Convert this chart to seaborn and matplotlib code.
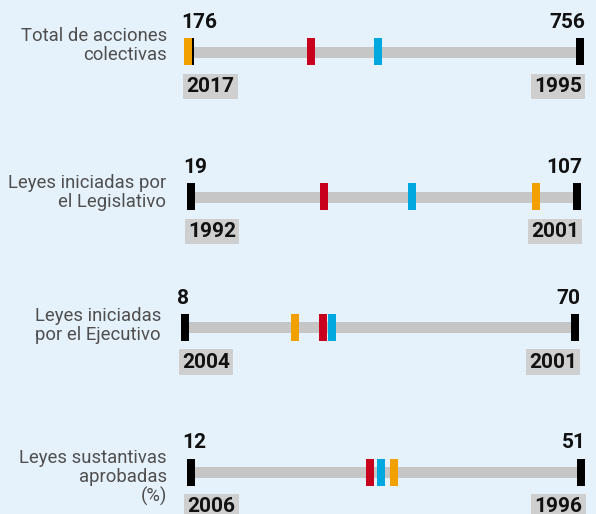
import matplotlib
matplotlib.use("Agg")
import matplotlib.pyplot as plt
import seaborn as sns
import pandas as pd
from matplotlib import font_manager as fm

# ---- data ----
labels = ["Total de acciones\ncolectivas",
          "Leyes iniciadas por\nel Legislativo",
          "Leyes iniciadas\npor el Ejecutivo",
          "Leyes sustantivas\naprobadas\n(%)"]
mins = [176, 19, 8, 12]
maxs = [756, 107, 70, 51]
min_years = ["2017", "1992", "2004", "2006"]
max_years = ["1995", "2001", "2001", "1996"]
orange_vals = [174.5, 97.7, 25.5, 32.3]
red_vals = [356, 49.3, 29.9, 29.9]
blue_vals = [456, 69.4, 31.3, 31.0]

# ---- layout (pixels) ----
W, H = 596, 514
left_px = [189.5, 191, 185, 190.5]
right_px = [580, 577, 575, 580.5]
center_px = [51.5, 196.5, 327, 472]
label_right = [167, 166, 161, 167]
label_top = [27, 174, 307, 449]

BG = "#E6F2FB"
palette = {"min": "#000000", "max": "#000000",
           "orange": "#F2A000", "red": "#C8001E", "blue": "#00A8E0"}

sns.set_theme(style="white")
avail = {f.name for f in fm.fontManager.ttflist}
num_font = [f for f in ["Liberation Sans Narrow", "DejaVu Sans Condensed", "Roboto", "DejaVu Sans"] if f in avail]
lab_font = [f for f in ["Roboto", "Lato", "DejaVu Sans"] if f in avail]
plt.rcParams["font.family"] = num_font

fig = plt.figure(figsize=(W / 100, H / 100), dpi=100, facecolor=BG)

verts = [(-4, -13.5), (4, -13.5), (4, 13.5), (-4, 13.5), (-4, -13.5)]

for i in range(4):
    lp, rp, cp = left_px[i], right_px[i], center_px[i]
    ax = fig.add_axes([lp / W, (H - (cp + 20)) / H, (rp - lp) / W, 40 / H])
    ax.set_facecolor("none")
    ax.set_xlim(mins[i], maxs[i])
    ax.set_ylim(-20, 20)
    ax.axis("off")

    ax.hlines(0, mins[i], maxs[i], color="#C6C6C6", lw=11 * 0.72,
              capstyle="butt", clip_on=False, zorder=1)

    df = pd.DataFrame({
        "value": [mins[i], maxs[i], orange_vals[i], red_vals[i], blue_vals[i]],
        "series": ["min", "max", "orange", "red", "blue"],
        "y": [0] * 5,
    })
    sns.scatterplot(data=df, x="value", y="y", hue="series", palette=palette,
                    marker=verts, s=(27 * 0.72) ** 2, linewidth=0,
                    legend=False, ax=ax, clip_on=False, zorder=3)
    ax.set_xlabel("")
    ax.set_ylabel("")

    # values above
    ax.annotate(str(mins[i]), xy=(mins[i], 0), xytext=(-8, 23.5),
                textcoords="offset pixels", ha="left", va="baseline",
                fontsize=15, fontweight="bold", color="#111111",
                annotation_clip=False)
    ax.annotate(str(maxs[i]), xy=(maxs[i], 0), xytext=(5, 23.5),
                textcoords="offset pixels", ha="right", va="baseline",
                fontsize=15, fontweight="bold", color="#111111",
                annotation_clip=False)
    # years below
    box = dict(boxstyle="square,pad=0.15", fc="#CFCFCF", ec="none")
    ax.annotate(min_years[i], xy=(mins[i], 0), xytext=(-3, -40.5),
                textcoords="offset pixels", ha="left", va="baseline",
                fontsize=15, fontweight="bold", color="#111111", bbox=box,
                annotation_clip=False)
    ax.annotate(max_years[i], xy=(maxs[i], 0), xytext=(2, -40.5),
                textcoords="offset pixels", ha="right", va="baseline",
                fontsize=15, fontweight="bold", color="#111111", bbox=box,
                annotation_clip=False)

    fig.text(label_right[i] / W, 1 - label_top[i] / H, labels[i],
             ha="right", va="top", multialignment="right",
             fontsize=13.3, fontweight="normal", color="#4F4F4F",
             family=lab_font, linespacing=1.08)

fig.savefig("out.png", dpi=100, facecolor=BG)
